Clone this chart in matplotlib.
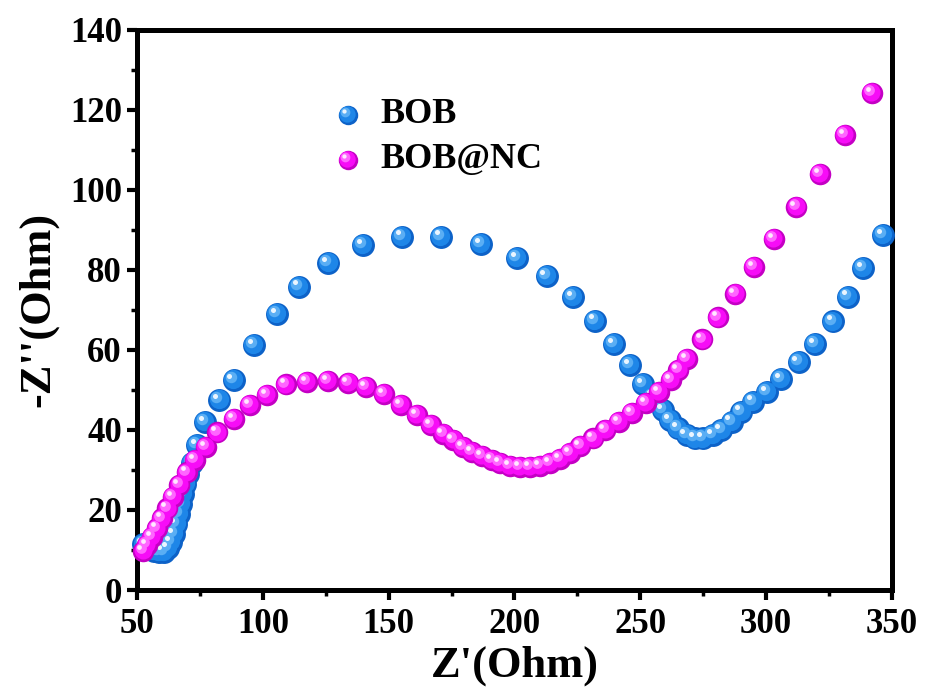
import matplotlib
matplotlib.use("Agg")
import matplotlib.pyplot as plt
from matplotlib.transforms import offset_copy
from matplotlib.ticker import MultipleLocator

# ---- data ----
bob_x = [52.5, 54.5, 56.5, 58.5, 60.5, 62.2, 63.5, 64.6, 65.6, 66.5, 67.4, 68.3, 69.2, 70.2,
         71.6, 73.7, 77.0, 82.7, 88.3, 96.5, 105.5, 114.4, 126.0, 139.9, 155.4, 170.8, 186.7,
         201.1, 212.8, 223.3, 232.0, 239.6, 245.9, 251.2, 255.1, 259.1, 261.8, 265.1, 268.4,
         271.7, 275.0, 279.0, 282.3, 286.3, 290.2, 294.9, 300.5, 306.0, 313.0, 319.5, 326.6,
         332.6, 338.6, 346.5]
bob_y = [11.5, 10.5, 9.8, 9.5, 9.6, 10.5, 12.0, 14.0, 16.5, 19.0, 21.5, 24.0, 26.5, 29.0,
         31.8, 36.2, 42.0, 47.5, 52.5, 61.2, 69.0, 75.8, 81.7, 86.2, 88.3, 88.3, 86.4,
         82.9, 78.5, 73.2, 67.3, 61.5, 56.2, 51.5, 48.3, 45.0, 42.5, 40.4, 38.7,
         37.9, 37.9, 38.7, 40.0, 42.1, 44.6, 47.1, 49.5, 52.7, 57.0, 61.5, 67.1,
         73.3, 80.4, 88.7]

nc_x = [52.5, 53.8, 55.8, 57.8, 59.8, 62.0, 64.1, 66.8, 69.7, 73.0, 77.4, 81.9, 88.5, 94.9,
        101.5, 109.2, 117.4, 125.8, 134.0, 141.0, 148.1, 154.8, 161.1, 166.7, 171.7, 175.7,
        179.4, 183.0, 186.9, 190.9, 194.2, 198.2, 202.2, 206.1, 210.1, 214.1, 218.1, 222.0,
        226.2, 231.4, 236.1, 241.4, 246.7, 252.1, 257.4, 262.1, 265.2, 268.5, 274.7, 280.8,
        287.8, 295.1, 303.2, 312.1, 321.5, 331.3, 342.0]
nc_y = [9.8, 11.2, 13.3, 15.4, 17.9, 20.4, 23.3, 26.2, 29.4, 32.5, 35.8, 39.4, 42.7, 46.2,
        48.7, 51.4, 52.1, 52.3, 51.8, 50.8, 49.0, 46.2, 43.7, 41.2, 39.0, 37.5,
        35.8, 34.6, 33.5, 32.5, 31.7, 31.1, 30.7, 30.7, 31.0, 31.7, 32.7, 34.2,
        36.0, 37.9, 40.0, 42.1, 44.2, 46.7, 49.6, 52.6, 55.0, 57.8, 62.6, 68.1,
        74.0, 80.7, 87.8, 95.8, 104.0, 113.7, 124.2]

labels = ["BOB", "BOB@NC"]
xticks = [50, 100, 150, 200, 250, 300, 350]
yticks = [0, 20, 40, 60, 80, 100, 120, 140]

# ---- style ----
plt.rcParams['font.family'] = ['Liberation Serif', 'DejaVu Serif']
plt.rcParams['font.weight'] = 'bold'

fig = plt.figure(figsize=(9.27, 6.93), dpi=100)
ax = fig.add_axes([0.148, 0.1486, 0.814, 0.8085])

# sphere layers: (size fraction, color, dx pt, dy pt)
blue_layers = [(1.0, '#0D62C8', 0, 0), (0.84, '#1E86E8', -0.5, 0.5),
               (0.50, '#5AAEF4', -1.8, 1.8), (0.22, '#EAF5FF', -2.6, 2.6)]
mag_layers = [(1.0, '#C400C4', 0, 0), (0.84, '#F70CF7', -0.5, 0.5),
              (0.50, '#FF66FF', -1.8, 1.8), (0.22, '#FFE8FF', -2.6, 2.6)]


def spheres(x, y, layers, size, z, trans_base=None, axes=ax):
    base = trans_base if trans_base is not None else axes.transData
    for frac, col, dx, dy in layers:
        tr = offset_copy(base, fig=fig, x=dx * size / 14, y=dy * size / 14, units='points')
        axes.scatter(x, y, s=(size * frac) ** 2, color=col, linewidths=0,
                     transform=tr, zorder=z, clip_on=False)


spheres(bob_x, bob_y, blue_layers, 16.5, 3)
spheres(nc_x, nc_y, mag_layers, 15.5, 4)

ax.set_xlim(50, 350)
ax.set_ylim(0, 140)
ax.set_xticks(xticks)
ax.set_yticks(yticks)
ax.xaxis.set_minor_locator(MultipleLocator(25))
ax.yaxis.set_minor_locator(MultipleLocator(10))

for s in ax.spines.values():
    s.set_linewidth(3.6)
ax.tick_params(which='major', direction='out', length=7, width=3.0, labelsize=25, pad=4,
               top=False, right=False)
ax.tick_params(which='minor', direction='out', length=4, width=2.5, top=False, right=False)
ax.tick_params(axis='x', pad=6)
for lab in ax.get_xticklabels() + ax.get_yticklabels():
    lab.set_fontweight('bold')

ax.set_xlabel("Z'(Ohm)", fontsize=32, fontweight='bold', labelpad=3)
ax.set_ylabel("-Z''(Ohm)", fontsize=32, fontweight='bold', labelpad=8)

# legend (manual, sphere markers)
leg_y = [0.848, 0.768]
for lab, ly, layers in zip(labels, leg_y, [blue_layers, mag_layers]):
    spheres([0.279], [ly], layers, 14.0, 5, trans_base=ax.transAxes)
    ax.text(0.322, ly, lab, transform=ax.transAxes, fontsize=26, fontweight='bold',
            va='center', ha='left')

fig.savefig("out.png", dpi=100)
